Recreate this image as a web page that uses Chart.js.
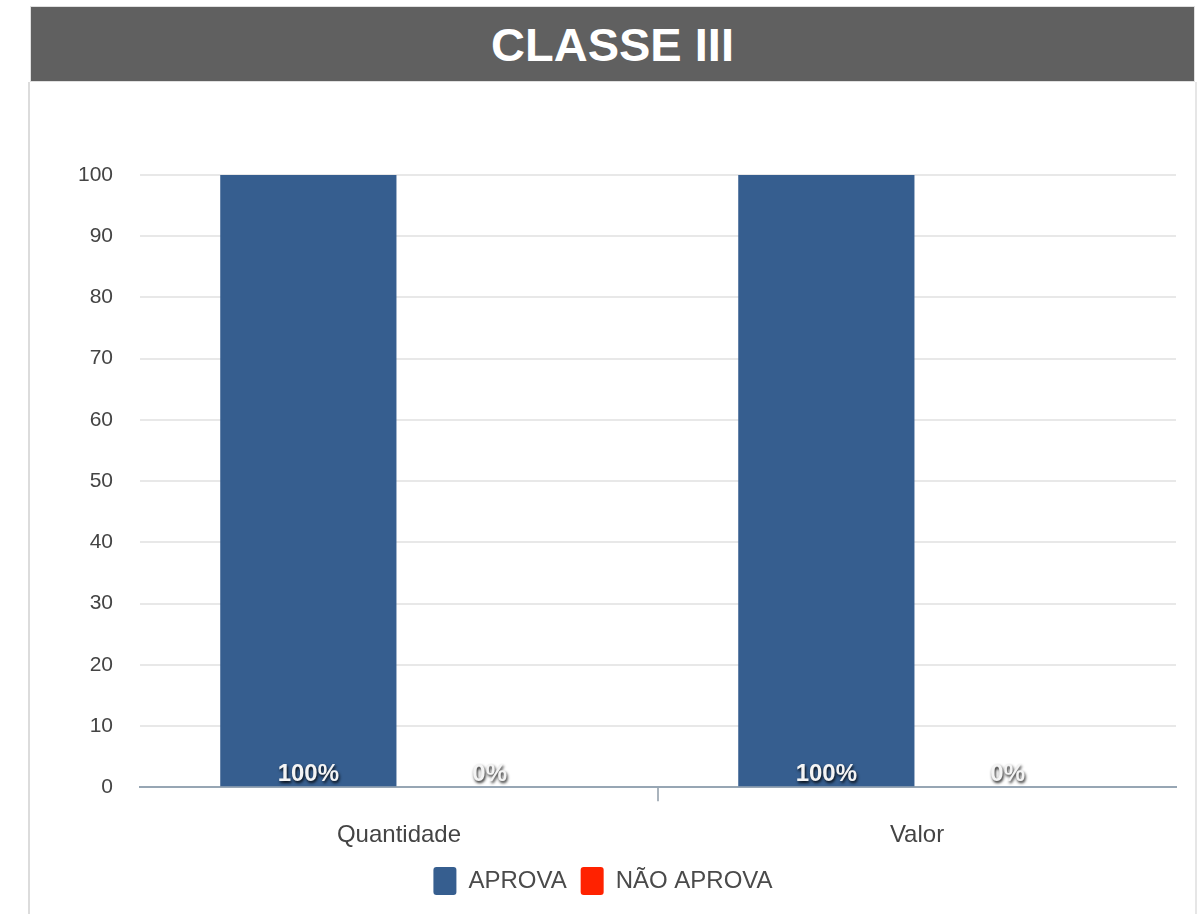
<!DOCTYPE html>
<html>
<head>
<meta charset="utf-8">
<script src="https://cdn.jsdelivr.net/npm/chart.js@4"></script>
<style>
  html,body{margin:0;padding:0;background:#fff;width:1201px;height:914px;overflow:hidden;font-family:"Liberation Sans",Arial,sans-serif;}
  #header{position:absolute;left:30px;top:6px;width:1165px;height:76px;background:#606060;border:1px solid #e0e0e0;box-sizing:border-box;
    color:#fff;font-weight:bold;font-size:47px;line-height:76px;text-align:center;padding-left:0px;}
  #panel{position:absolute;left:28px;top:82px;width:1169px;height:840px;border-left:2px solid #dcdcdc;border-right:2px solid #e6e6e6;box-sizing:border-box;}
  #wrap{position:absolute;left:30px;top:84px;width:1166px;height:830px;}
</style>
</head>
<body>
<div id="header">CLASSE III</div>
<div id="panel"></div>
<div id="wrap"><canvas id="c"></canvas></div>
<script>
const categories = ["Quantidade", "Valor"];
const seriesNames = ["APROVA", "NÃO APROVA"];
const aprovaValues = [100, 100];
const naoAprovaValues = [0, 0];
const aprovaLabels = ["100%", "100%"];
const naoAprovaLabels = ["0%", "0%"];
const yTicks = [0, 10, 20, 30, 40, 50, 60, 70, 80, 90, 100];

const valueLabelPlugin = {
  id: 'valueLabels',
  afterDatasetsDraw(chart) {
    const ctx = chart.ctx;
    const bottom = chart.chartArea.bottom;
    chart.data.datasets.forEach((ds, di) => {
      const meta = chart.getDatasetMeta(di);
      meta.data.forEach((el, i) => {
        const txt = ds.valueLabels[i];
        ctx.save();
        ctx.font = 'bold 24px "Liberation Sans",Arial,sans-serif';
        ctx.textAlign = 'center';
        ctx.textBaseline = 'alphabetic';
        ctx.shadowColor = 'rgba(0,0,0,0.9)';
        ctx.shadowBlur = 3;
        ctx.shadowOffsetX = 1;
        ctx.shadowOffsetY = 2;
        ctx.fillStyle = '#f4f4f4';
        ctx.fillText(txt, el.x, bottom - 6);
        ctx.restore();
      });
    });
  }
};

new Chart(document.getElementById('c'), {
  type: 'bar',
  data: {
    labels: categories,
    datasets: [
      { label: seriesNames[0], data: aprovaValues, valueLabels: aprovaLabels, backgroundColor: '#365e8f', borderWidth: 0,
        categoryPercentage: 0.70, barPercentage: 0.972 },
      { label: seriesNames[1], data: naoAprovaValues, valueLabels: naoAprovaLabels, backgroundColor: '#ff2200', borderWidth: 0,
        categoryPercentage: 0.70, barPercentage: 0.972 }
    ]
  },
  options: {
    responsive: true,
    maintainAspectRatio: false,
    animation: false,
    layout: { padding: { left: 0, right: 20, top: 91, bottom: 9 } },
    plugins: {
      tooltip: { enabled: false },
      legend: {
        position: 'bottom',
        labels: {
          font: { family: '"Liberation Sans",Arial,sans-serif', size: 24 },
          color: '#4a4a4a',
          boxWidth: 23, boxHeight: 28,
          useBorderRadius: true, borderRadius: 3,
          padding: 14
        }
      }
    },
    scales: {
      x: {
        afterFit: (s) => { s.height = s.height - 17; },
        grid: {
          offset: true,
          drawOnChartArea: false,
          drawTicks: true,
          tickLength: 14,
          lineWidth: 2,
          color: (c) => c.index === 1 ? '#aab4bd' : 'rgba(0,0,0,0)'
        },
        border: { display: true, color: '#97a6b4', width: 2 },
        ticks: { font: { family: '"Liberation Sans",Arial,sans-serif', size: 24 }, color: '#444', padding: 20 }
      },
      y: {
        min: 0, max: 100,
        afterFit: (s) => { s.width = 110; },
        afterBuildTicks: (s) => { s.ticks = yTicks.map(v => ({ value: v })); },
        grid: { drawTicks: false, lineWidth: 2, color: (c) => c.tick && c.tick.value === 0 ? 'rgba(0,0,0,0)' : '#e8e8e8' },
        border: { display: false },
        ticks: { font: { family: '"Liberation Sans",Arial,sans-serif', size: 21 }, color: '#444', padding: 27 }
      }
    }
  },
  plugins: [valueLabelPlugin]
});
</script>
</body>
</html>
